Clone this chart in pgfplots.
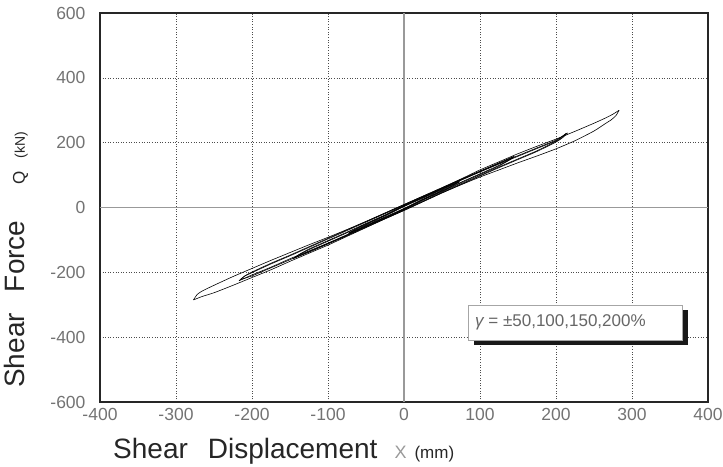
\documentclass[border=0pt]{standalone}
\usepackage{fontspec}
\setmainfont{Liberation Sans}
\usepackage{pgfplots}
\pgfplotsset{compat=1.18}

% hysteresis loop branches: upper = loading (x increasing), lower = unloading
\pgfplotsset{
  loop/.style={black, line width=0.6pt, smooth, tension=0.35, no marks},
}

\begin{document}
\begin{tikzpicture}
\path[use as bounding box] (-100pt,-64pt) rectangle (623pt,402pt);
\begin{axis}[
  at={(0pt,0pt)}, anchor=south west,
  scale only axis, width=608pt, height=389pt,
  xmin=-400, xmax=400, ymin=-600, ymax=600,
  xtick={-400,-300,...,400}, ytick={-600,-400,...,600},
  xticklabels={-400,-300,-200,-100,0,100,200,300,400},
  yticklabels={-600,-400,-200,0,200,400,600},
  major tick length=0pt,
  grid=major,
  major grid style={black!70, line width=0.6pt, dash pattern=on 1pt off 1.6pt},
  axis line style={black!85, line width=1.8pt},
  tick label style={font=\fontsize{17.5}{18}\selectfont, text=black!55},
  xticklabel style={yshift=-3pt},
  yticklabel style={xshift=-11pt},
]
% zero lines
\draw[black!40, line width=1.2pt] (axis cs:-400,0) -- (axis cs:400,0);
\draw[black!40, line width=1.2pt] (axis cs:0,-600) -- (axis cs:0,600);

% gamma = 200 %
\addplot[loop] coordinates {(-277,-285) (-272,-268) (-265,-257) (-250,-240) (-225,-213) (-200,-188) (-175,-163) (-150,-139) (-125,-115) (-100,-92) (-75,-68) (-50,-43) (-25,-17) (0,9) (25,35) (50,61) (75,88) (100,116) (125,141) (150,166) (175,189) (200,211) (225,235) (250,260) (265,276) (275,288) (283,300)};
\addplot[loop] coordinates {(283,300) (279,284) (273,271) (265,259) (250,236) (225,206) (200,181) (175,159) (150,138) (125,116) (100,94) (75,70) (50,45) (25,18) (0,-9) (-25,-35) (-50,-62) (-75,-89) (-100,-116) (-125,-141) (-150,-166) (-175,-192) (-200,-216) (-225,-240) (-250,-263) (-265,-274) (-277,-285)};

% gamma = 150 %
\addplot[loop] coordinates {(-217,-226) (-210,-212) (-200,-201) (-175,-174) (-150,-149) (-125,-123) (-100,-97) (-75,-71) (-50,-45) (-25,-19) (0,7) (25,33) (50,59) (75,85) (100,110) (125,134) (150,158) (175,182) (200,206) (213,228)};
\addplot[loop] coordinates {(213,228) (207,214) (200,204) (175,175) (150,150) (125,125) (100,99) (75,73) (50,47) (25,20) (0,-7) (-25,-33) (-50,-59) (-75,-85) (-100,-110) (-125,-134) (-150,-158) (-175,-184) (-200,-208) (-217,-226)};
\addplot[loop] coordinates {(-215,-222) (-208,-209) (-200,-199) (-175,-172) (-150,-147) (-125,-121) (-100,-95) (-75,-69) (-50,-43) (-25,-17) (0,9) (25,35) (50,61) (75,87) (100,112) (125,136) (150,160) (175,184) (200,208) (215,230)};
\addplot[loop] coordinates {(215,230) (209,216) (200,202) (175,173) (150,148) (125,123) (100,97) (75,71) (50,45) (25,18) (0,-9) (-25,-35) (-50,-61) (-75,-87) (-100,-112) (-125,-136) (-150,-161) (-175,-186) (-200,-211) (-215,-222)};

% gamma = 100 %
\addplot[loop] coordinates {(-146,-158) (-140,-148) (-125,-130) (-100,-104) (-75,-78) (-50,-51) (-25,-25) (0,4) (25,31) (50,57) (75,84) (100,110) (125,136) (145,158)};
\addplot[loop] coordinates {(145,158) (140,148) (125,130) (100,104) (75,78) (50,51) (25,25) (0,-4) (-25,-31) (-50,-57) (-75,-84) (-100,-110) (-125,-136) (-146,-158)};
\addplot[loop] coordinates {(-144,-155) (-138,-145) (-125,-128) (-100,-102) (-75,-76) (-50,-49) (-25,-23) (0,6) (25,33) (50,59) (75,86) (100,112) (125,138) (143,156)};
\addplot[loop] coordinates {(143,156) (138,146) (125,128) (100,102) (75,76) (50,49) (25,23) (0,-6) (-25,-33) (-50,-59) (-75,-86) (-100,-112) (-125,-138) (-144,-155)};

% gamma = 50 %
\addplot[loop] coordinates {(-73,-80) (-60,-64) (-50,-53) (-25,-26) (0,3) (25,29) (50,55) (60,66) (73,80)};
\addplot[loop] coordinates {(73,80) (60,64) (50,53) (25,26) (0,-3) (-25,-29) (-50,-55) (-60,-66) (-73,-80)};
\addplot[loop] coordinates {(-72,-78) (-60,-62) (-50,-51) (-25,-24) (0,5) (25,31) (50,57) (60,67) (72,78)};
\addplot[loop] coordinates {(72,78) (60,62) (50,51) (25,24) (0,-5) (-25,-31) (-50,-57) (-60,-67) (-72,-78)};
\end{axis}

% strain amplitude box with drop shadow
\fill[black!90] (374pt,57pt) rectangle (588pt,92pt);
\draw[fill=white, draw=black!35, line width=0.8pt] (368pt,62pt) rectangle (582pt,97pt);
\node[anchor=west, text=black!60, font=\fontsize{17}{17}\selectfont, inner sep=0pt]
  at (375pt,79.5pt) {{\itshape γ} = ±50,100,150,200\%};

% axis titles
\node[anchor=base west, text=black!85, inner sep=0pt] at (13pt,-56pt)
  {\fontsize{28}{28}\selectfont Shear\hspace{20pt}Displacement\hspace{17pt}{\color{black!40}\fontsize{18}{18}\selectfont X}\hspace{8pt}{\fontsize{17}{17}\selectfont (mm)}};
\node[anchor=base west, rotate=90, text=black!85, inner sep=0pt] at (-75pt,14pt)
  {\fontsize{28}{28}\selectfont Shear\hspace{21pt}Force\hspace{36pt}{\fontsize{17}{17}\selectfont Q}\hspace{13pt}{\fontsize{14}{14}\selectfont (kN)}};
\end{tikzpicture}
\end{document}
